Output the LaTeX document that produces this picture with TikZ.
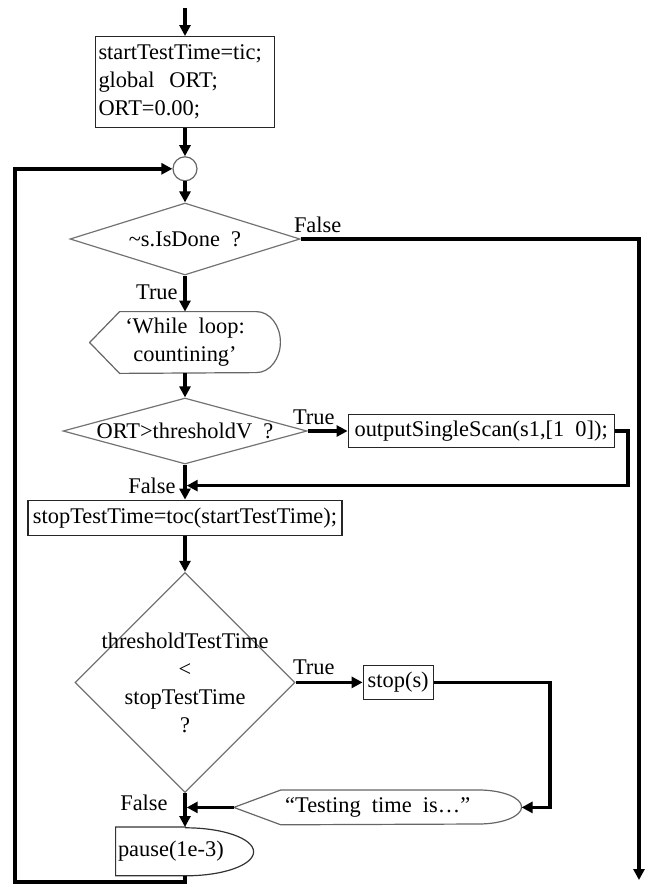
\documentclass[tikz,border=0pt]{standalone}
\usepackage{fontspec}
\setmainfont{Liberation Serif}
\usetikzlibrary{arrows.meta,positioning,shapes.geometric}
\tikzset{
    procBox/.style={
        draw=black!85,
        line width=0.6pt,
        inner sep=1.5pt,
        minimum height=17pt
    },
    decisionBox/.style={
        diamond,
        draw=black!55,
        line width=0.6pt,
        inner sep=-4pt
    },
    junctionDot/.style={
        circle,
        draw=black!60,
        line width=0.6pt,
        minimum size=12pt,
        inner sep=0pt
    },
    plainText/.style={
        inner sep=0pt,
        align=center
    },
    outlineGray/.style={
        draw=black!60,
        line width=0.6pt
    },
    flowLabel/.style={
        inner sep=1pt
    },
    flowArrow/.style={
        -{Triangle[length=5.5pt,width=5.5pt]},
        line width=1.7pt
    }
}

\begin{document}
\begin{tikzpicture}[font=\fontsize{11.2pt}{14pt}\selectfont]
        \useasboundingbox (0,0) rectangle (322.5pt,-442pt);
        \coordinate (top) at (92.5pt,-4pt);
        \coordinate (leftrail) at (7.5pt,-200pt);
        \coordinate (exit) at (319.5pt,-440pt);

        \node[procBox,below=14pt of top,text width=86.5pt,minimum height=45.5pt,align=left] (init) {startTestTime=tic;\\global\ \ ORT;\\ORT=0.00;};
        \node[junctionDot,below=14pt of init] (junc) {};
        \node[decisionBox,aspect=3.2,minimum width=115pt,minimum height=36pt,below=10.5pt of junc] (isdone) {\textasciitilde s.IsDone\ \ ?};
        \node[plainText,minimum width=95pt,minimum height=30.5pt,below=18pt of isdone] (loopmsg) {`While\ \ loop:\\countining'};
        \node[decisionBox,aspect=3.7,minimum width=122pt,minimum height=33pt,below=12pt of loopmsg] (ortcheck) {ORT>thresholdV\ \ ?};
        \node[procBox,minimum width=133pt,minimum height=16.5pt,right=20pt of ortcheck] (scan) {outputSingleScan(s1,[1\ \ 0]);};
        \node[procBox,minimum width=157pt,minimum height=17.5pt,below=17.5pt of ortcheck] (stoptime) {stopTestTime=toc(startTestTime);};
        \node[decisionBox,aspect=1,minimum width=110pt,minimum height=110pt,inner sep=-14pt,align=center,below=18pt of stoptime] (timecheck) {thresholdTestTime\\<\\stopTestTime\\?};
        \node[procBox,minimum width=35pt,right=33.5pt of timecheck] (stop) {stop(s)};
        \node[plainText,minimum width=143.5pt,minimum height=17pt,below=45pt of stop,xshift=-10.25pt] (endmsg) {“Testing\ \ time\ \ is…”};
        \node[plainText,minimum width=69pt,minimum height=24pt,text width=67pt,align=left,below=17pt of timecheck] (pause) {pause(1e-3)};

        \coordinate[below=10.5pt of ortcheck.south] (mergeA);
        \coordinate (mergeB) at (timecheck.south |- endmsg.west);

        % outlines of the display and delay symbols
        \draw[outlineGray] (loopmsg.west) -- ([xshift=15pt]loopmsg.north west) -- ([xshift=-12pt]loopmsg.north east) arc[start angle=90,end angle=-90,x radius=12pt,y radius=15.25pt] -- ([xshift=15pt]loopmsg.south west) -- cycle;
        \draw[outlineGray] (endmsg.west) -- ([xshift=23.5pt]endmsg.north west) -- ([xshift=-21.5pt]endmsg.north east) arc[start angle=90,end angle=-90,x radius=21.5pt,y radius=8.5pt] -- ([xshift=23.5pt]endmsg.south west) -- cycle;
        \draw[outlineGray,draw=black!80] ([xshift=35pt]pause.north west) -- (pause.north west) -- (pause.south west) -- ([xshift=35pt]pause.south west) arc[start angle=-90,end angle=90,x radius=34pt,y radius=12pt] -- cycle;

        \draw[flowArrow] (top) -- (init);
        \draw[flowArrow] (init) -- (junc);
        \draw[flowArrow] (junc) -- (isdone);
        \draw[flowArrow] (isdone) -- (loopmsg);
        \draw[flowArrow] (loopmsg) -- (ortcheck);
        \draw[flowArrow] (ortcheck.east) -- (scan);
        \draw[flowArrow,shorten >=0.85pt] (scan.east) -- ++(6.5pt,0) |- (mergeA);
        \draw[flowArrow] (ortcheck) -- (stoptime);
        \draw[flowArrow] (stoptime) -- (timecheck);
        \draw[flowArrow] (timecheck.east) -- (stop);
        \draw[flowArrow] (stop.east) -- ++(58pt,0) |- (endmsg.east);
        \draw[flowArrow,shorten >=0.85pt] (endmsg.west) -- (mergeB);
        \draw[flowArrow] (timecheck) -- (pause);
        \draw[flowArrow] (pause.south) -- ++(0,-3pt) -| (leftrail) |- (junc.west);
        \draw[flowArrow] (isdone.east) -| (exit);

        \node[flowLabel,anchor=south west] (falseA) at ([xshift=-4.5pt,yshift=2pt]isdone.east) {False};
        \node[flowLabel,anchor=south east] (trueA) at ([xshift=-2.5pt,yshift=-13.5pt]isdone.south) {True};
        \node[flowLabel,anchor=south west] (trueB) at ([xshift=-8.5pt,yshift=2pt]ortcheck.east) {True};
        \node[flowLabel,anchor=south east] (falseB) at ([xshift=-3.5pt,yshift=-5.5pt]mergeA) {False};
        \node[flowLabel,anchor=south west] (trueC) at ([xshift=-2.5pt,yshift=2.5pt]timecheck.east) {True};
        \node[flowLabel,anchor=south east] (falseC) at ([xshift=-7.5pt,yshift=-3pt]mergeB) {False};
    \end{tikzpicture}
\end{document}
